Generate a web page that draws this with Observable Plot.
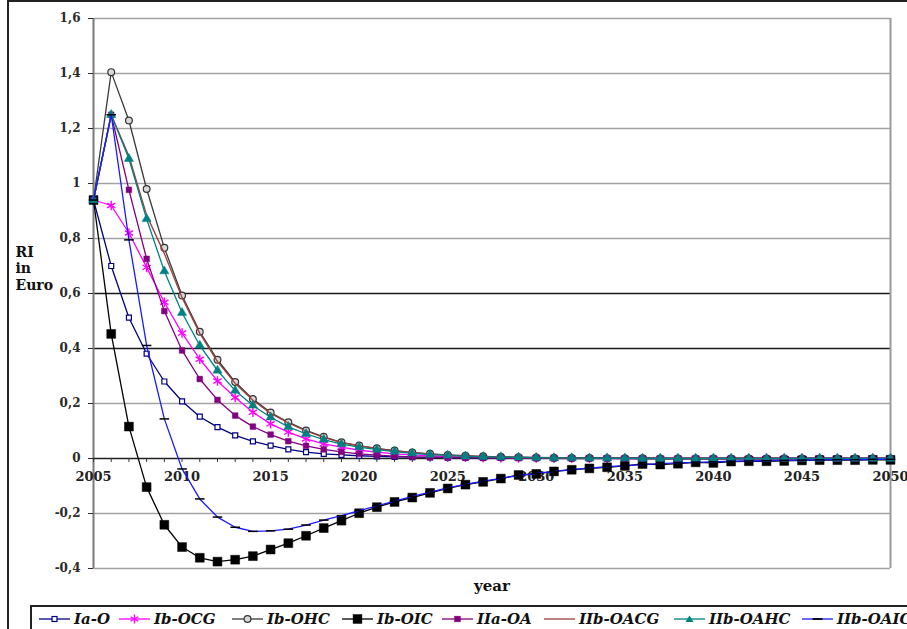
<!DOCTYPE html>
<html><head><meta charset="utf-8">
<script src="https://cdn.jsdelivr.net/npm/d3@7"></script>
<script src="https://cdn.jsdelivr.net/npm/@observablehq/plot@0.6"></script>
<style>
body{margin:0;background:#fff;overflow:hidden;}
#wrap{position:relative;width:907px;height:629px;overflow:hidden;}
#chart svg{display:block;}
#border{position:absolute;left:7px;top:0;width:1000px;height:1000px;border-left:2px solid #222;border-top:2px solid #222;pointer-events:none;}
#legend{position:absolute;left:30px;top:605px;width:900px;height:40px;border:2px solid #222;box-sizing:border-box;font:italic bold 15px "DejaVu Serif";color:#111;}
.item{position:absolute;top:3px;display:flex;align-items:center;height:18px;white-space:nowrap;}
.item svg{margin-right:4px;}
</style></head><body>
<div id="wrap"><div id="chart"></div><div id="legend"></div><div id="border"></div></div>
<script>
// ---- data ----
const years = [2005,2006,2007,2008,2009,2010,2011,2012,2013,2014,2015,2016,2017,2018,2019,2020,2021,2022,2023,2024,2025,2026,2027,2028,2029,2030,2031,2032,2033,2034,2035,2036,2037,2038,2039,2040,2041,2042,2043,2044,2045,2046,2047,2048,2049,2050];
const xTickLabels = [2005,2010,2015,2020,2025,2030,2035,2040,2045,2050];
const yTicks = [-0.4,-0.2,0,0.2,0.4,0.6,0.8,1,1.2,1.4,1.6];
const gridLight = [-0.4,-0.2,0.2,0.8,1,1.2,1.4,1.6];
const gridDark = [0.4,0.6];
const yTitleLines = ["RI","in","Euro"];
const seriesNames = ["Ia-O","Ib-OCG","Ib-OHC","Ib-OIC","IIa-OA","IIb-OACG","IIb-OAHC","IIb-OAIC"];

const IaO = [0.94,0.70,0.512,0.381,0.28,0.208,0.152,0.114,0.084,0.062,0.047,0.033,0.023,0.017,0.013,0.010,0.008,0.006,0.005,0.004,0.003,0.003,0.002,0.002,0.002,0.001,0.001,0.001,0.001,0.001,0.001,0.001,0,0,0,0,0,0,0,0,0,0,0,0,0,0];
const IbOCG = [0.94,0.92,0.82,0.695,0.568,0.456,0.361,0.282,0.222,0.168,0.126,0.096,0.071,0.053,0.041,0.030,0.023,0.017,0.013,0.010,0.007,0.005,0.004,0.003,0.002,0.002,0.001,0.001,0.001,0.001,0,0,0,0,0,0,0,0,0,0,0,0,0,0,0,0];
const IbOHC = [0.94,1.405,1.229,0.98,0.766,0.593,0.461,0.359,0.278,0.216,0.167,0.132,0.102,0.079,0.059,0.047,0.037,0.029,0.022,0.017,0.013,0.010,0.008,0.006,0.005,0.004,0.003,0.002,0.002,0.001,0.001,0.001,0,0,0,0,0,0,0,0,0,0,0,0,0,0];
const IbOIC = [0.94,0.453,0.116,-0.104,-0.241,-0.322,-0.361,-0.375,-0.368,-0.355,-0.331,-0.308,-0.281,-0.253,-0.226,-0.199,-0.177,-0.158,-0.142,-0.125,-0.109,-0.095,-0.085,-0.073,-0.060,-0.056,-0.047,-0.041,-0.036,-0.032,-0.027,-0.020,-0.022,-0.019,-0.014,-0.016,-0.011,-0.010,-0.010,-0.009,-0.007,-0.006,-0.006,-0.006,-0.005,-0.005];
const IIaOA = [0.94,1.25,0.977,0.726,0.536,0.393,0.289,0.213,0.156,0.116,0.087,0.063,0.046,0.033,0.024,0.017,0.012,0.009,0.006,0.005,0.004,0.003,0.002,0.002,0.001,0.001,0.001,0,0,0,0,0,0,0,0,0,0,0,0,0,0,0,0,0,0,0];
const IIbOACG = [0.94,1.25,1.10,0.885,0.745,0.585,0.455,0.352,0.273,0.212,0.164,0.129,0.100,0.077,0.058,0.046,0.036,0.028,0.021,0.016,0.012,0.009,0.007,0.005,0.004,0.003,0.002,0.002,0.001,0.001,0.001,0,0,0,0,0,0,0,0,0,0,0,0,0,0,0];
const IIbOAHC = [0.94,1.25,1.09,0.871,0.681,0.53,0.411,0.32,0.247,0.193,0.15,0.115,0.09,0.069,0.052,0.041,0.032,0.025,0.019,0.014,0.011,0.008,0.006,0.005,0.004,0.003,0.002,0.002,0.001,0.001,0.001,0,0,0,0,0,0,0,0,0,0,0,0,0,0,0];
const IIbOAIC = [0.94,1.25,0.795,0.411,0.144,-0.038,-0.147,-0.213,-0.25,-0.265,-0.263,-0.257,-0.242,-0.224,-0.208,-0.19,-0.172,-0.155,-0.138,-0.122,-0.107,-0.094,-0.082,-0.072,-0.062,-0.054,-0.047,-0.040,-0.035,-0.030,-0.026,-0.022,-0.019,-0.016,-0.014,-0.012,-0.010,-0.009,-0.008,-0.007,-0.006,-0.005,-0.004,-0.004,-0.003,-0.003];
const seriesValues = [IaO, IbOCG, IbOHC, IbOIC, IIaOA, IIbOACG, IIbOAHC, IIbOAIC];

// ---- styles ----
const dash = {draw(ctx, size){ const w = Math.sqrt(size) * 0.9; ctx.moveTo(-w, 0); ctx.lineTo(w, 0); }};
const styles = {
  "Ia-O":     {color:"#000080", symbol:"square",   r:2.8, fill:"#fff",    mstroke:"#000080", sw:1.2},
  "Ib-OCG":   {color:"#ff00ff", symbol:"asterisk", r:4.5, fill:"none",    mstroke:"#ff00ff", sw:1.4},
  "Ib-OHC":   {color:"#3a3a3a", symbol:"circle",   r:3.4, fill:"#d8d8d8", mstroke:"#333",    sw:1.2},
  "Ib-OIC":   {color:"#000000", symbol:"square",   r:5,   fill:"#000",    mstroke:"#000",    sw:0.5},
  "IIa-OA":   {color:"#800080", symbol:"square",   r:3.2, fill:"#800080", mstroke:"#800080", sw:0.5},
  "IIb-OACG": {color:"#a03c3c", symbol:null},
  "IIb-OAHC": {color:"#008080", symbol:"triangle", r:3.4, fill:"#008080", mstroke:"#008080", sw:0.5},
  "IIb-OAIC": {color:"#1a1aff", symbol:dash,       r:3,   fill:"none",    mstroke:"#000",    sw:1.5}
};
const legendLeft = [7,87,200,310,410,512,642,770];

const rows = [];
seriesNames.forEach((name, k) => seriesValues[k].forEach((v, i) => rows.push({series:name, year:years[i], value:v})));

const marks = [
  Plot.ruleY(gridLight, {stroke:"#a3a3a3", strokeWidth:1.6}),
  Plot.ruleY(gridDark, {stroke:"#1a1a1a", strokeWidth:1.4}),
  Plot.ruleX([2050], {stroke:"#9a9a9a", strokeWidth:2}),
  Plot.ruleX([2005], {stroke:"#7a7a7a", strokeWidth:2}),
  Plot.axisY({ticks:yTicks, tickFormat:d => String(+d.toFixed(1)).replace(".", ","), tickSize:5, tickPadding:8, fontSize:12, label:null, color:"#2a2a2a"}),
  Plot.ruleY([0], {stroke:"#222", strokeWidth:1.5}),
  Plot.ruleX(years, {x:d => d, y1:0, y2:0, insetBottom:-4, stroke:"#333"}),
  Plot.text(xTickLabels, {x:d => d, y:0, dy:18, text:d => String(d), fontSize:13, fill:"#222"}),
  ...yTitleLines.map((t, i) => Plot.text([t], {frameAnchor:"left", dx:-78, dy:-41 + i * 16.5, textAnchor:"start", fontSize:14, fill:"#111"})),
  Plot.text(["year"], {frameAnchor:"bottom", dy:22, fontSize:15, fill:"#111"})
];
for (const s of seriesNames) {
  const st = styles[s];
  const d = rows.filter(r => r.series === s);
  marks.push(Plot.line(d, {x:"year", y:"value", stroke:st.color, strokeWidth:1.3}));
  if (st.symbol) marks.push(Plot.dot(d, {x:"year", y:"value", symbol:st.symbol, r:st.r, fill:st.fill, stroke:st.mstroke, strokeWidth:st.sw}));
}

const chart = Plot.plot({
  width:907, height:606,
  marginLeft:93, marginRight:17, marginTop:18, marginBottom:38,
  x:{domain:[2005,2050], axis:null},
  y:{domain:[-0.4,1.6]},
  style:{fontFamily:"'DejaVu Serif', serif", fontWeight:"bold", background:"transparent", overflow:"visible"},
  marks
});
document.getElementById("chart").appendChild(chart);

// ---- legend ----
function markerSvg(st) {
  if (!st.symbol) return '';
  if (st.symbol === "square") { const a = st.r * 1.77; return `<rect x="${15.5 - a/2}" y="${7 - a/2}" width="${a}" height="${a}" fill="${st.fill}" stroke="${st.mstroke}" stroke-width="${st.sw}"/>`; }
  if (st.symbol === "circle") return `<circle cx="15.5" cy="7" r="${st.r}" fill="${st.fill}" stroke="${st.mstroke}" stroke-width="${st.sw}"/>`;
  if (st.symbol === "triangle") return `<path d="M15.5,3.5L19.5,10L11.5,10Z" fill="${st.fill}"/>`;
  if (st.symbol === "asterisk") return `<path d="M15.5,2.5V11.5M11.6,4.75L19.4,9.25M11.6,9.25L19.4,4.75" stroke="${st.mstroke}" stroke-width="1.4"/>`;
  return `<path d="M10.5,7H20.5" stroke="${st.mstroke}" stroke-width="1.8"/>`;
}
const legend = document.getElementById("legend");
seriesNames.forEach((s, i) => {
  const st = styles[s];
  const item = document.createElement("div");
  item.className = "item";
  item.style.left = legendLeft[i] + "px";
  item.innerHTML = `<svg width="31" height="14"><line x1="0" y1="7" x2="31" y2="7" stroke="${st.color}" stroke-width="1.3"/>${markerSvg(st)}</svg><span>${s}</span>`;
  legend.appendChild(item);
});
</script>
</body></html>
